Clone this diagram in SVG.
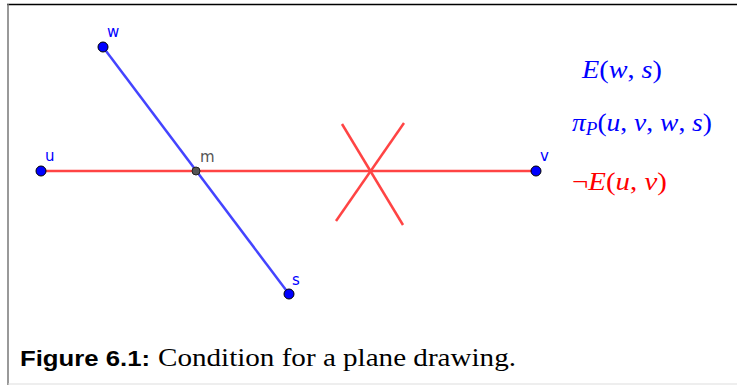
<svg xmlns="http://www.w3.org/2000/svg" width="737" height="385" viewBox="0 0 737 385">
<style>
.lbl{font-family:"DejaVu Sans","Liberation Sans",sans-serif;font-size:15px;fill:#0000ff}
.math{font-family:"Liberation Serif",serif;font-size:26px;font-style:italic}
.rm{font-style:normal}
.pt{fill:#0000ff;stroke:#000;stroke-width:1}
.red{stroke:#ff4444;stroke-width:2.5;fill:none}
.blue{stroke:#4444ff;stroke-width:2.5;fill:none}
</style>
<rect x="0" y="0" width="737" height="385" fill="#fff"/>
<line x1="7" y1="4.5" x2="737" y2="4.5" stroke="#000" stroke-width="1.5"/>
<line x1="8" y1="4" x2="8" y2="385" stroke="#777" stroke-width="1.5"/>
<line x1="8" y1="384" x2="737" y2="384" stroke="#ddd" stroke-width="1"/>
<g id="connectors">
<line class="red" x1="41" y1="171" x2="536" y2="171"/>
<line class="blue" x1="103" y1="47" x2="289" y2="294"/>
<line class="red" x1="342" y1="124" x2="403" y2="225"/>
<line class="red" x1="404" y1="123" x2="336" y2="221"/>
</g>
<g id="node-w"><circle class="pt" cx="103" cy="47" r="5"/><text class="lbl" x="107" y="37">w</text></g>
<g id="node-u"><circle class="pt" cx="41" cy="171" r="5"/><text class="lbl" x="45" y="161">u</text></g>
<g id="node-m"><circle cx="196" cy="171" r="4" fill="#555" stroke="#222" stroke-width="1"/><text class="lbl" x="200" y="162" style="fill:#555">m</text></g>
<g id="node-v"><circle class="pt" cx="536" cy="171" r="5"/><text class="lbl" x="540" y="161">v</text></g>
<g id="node-s"><circle class="pt" cx="289" cy="294" r="5"/><text class="lbl" x="292" y="285">s</text></g>
<g id="labels">
<text class="math" x="582" y="78" fill="#0000ff" textLength="80" lengthAdjust="spacingAndGlyphs">E<tspan class="rm">(</tspan>w<tspan class="rm">, </tspan>s<tspan class="rm">)</tspan></text>
<text class="math" x="572" y="131" fill="#0000ff" textLength="140" lengthAdjust="spacingAndGlyphs">π<tspan font-size="18" dy="4">P</tspan><tspan class="rm" dy="-4">(</tspan>u<tspan class="rm">, </tspan>v<tspan class="rm">, </tspan>w<tspan class="rm">, </tspan>s<tspan class="rm">)</tspan></text>
<text class="math" x="572" y="190" fill="#ff0000" textLength="95" lengthAdjust="spacingAndGlyphs"><tspan class="rm">¬</tspan>E<tspan class="rm">(</tspan>u<tspan class="rm">, </tspan>v<tspan class="rm">)</tspan></text>
</g>
<text x="20" y="366" font-family="Liberation Sans,sans-serif" font-size="22" font-weight="bold" fill="#000" textLength="130" lengthAdjust="spacingAndGlyphs">Figure 6.1:</text>
<text x="158" y="366" font-family="Liberation Serif,serif" font-size="25" fill="#000" textLength="358" lengthAdjust="spacingAndGlyphs">Condition for a plane drawing.</text>
</svg>
